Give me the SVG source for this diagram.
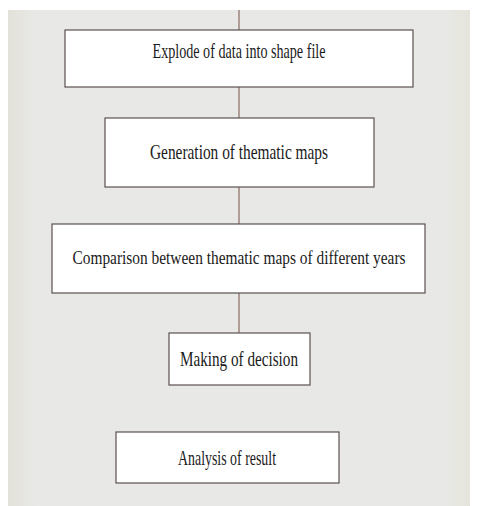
<svg xmlns="http://www.w3.org/2000/svg" width="478" height="506" viewBox="0 0 478 506">
<defs>
<linearGradient id="bg" x1="0" y1="0" x2="1" y2="0">
<stop offset="0" stop-color="#e3e2d9"/>
<stop offset="0.06" stop-color="#e8e8e6"/>
<stop offset="0.94" stop-color="#e8e8e6"/>
<stop offset="1" stop-color="#e6e5dc"/>
</linearGradient>
</defs>
<style>
.box{fill:#ffffff;stroke:#5a5250;stroke-width:1.2}
.lbl{font-family:"Liberation Serif",serif;font-size:21px;fill:#1a1a1a;text-anchor:middle}
.conn{stroke:#8a6a62;stroke-width:1.2;fill:none}
</style>
<rect x="0" y="0" width="478" height="506" fill="#ffffff"/>
<rect x="8" y="10" width="462" height="496" fill="url(#bg)"/>
<g id="connectors">
<line class="conn" x1="239" y1="10" x2="239" y2="30"/>
<line class="conn" x1="239" y1="87" x2="239" y2="118"/>
<line class="conn" x1="239" y1="187" x2="239" y2="224"/>
<line class="conn" x1="239" y1="293" x2="239" y2="333"/>
</g>
<g id="n1">
<rect class="box" x="65" y="30" width="348" height="57"/>
<text class="lbl" x="239" y="58" textLength="173" lengthAdjust="spacingAndGlyphs">Explode of data into shape file</text>
</g>
<g id="n2">
<rect class="box" x="105" y="118" width="269" height="69"/>
<text class="lbl" x="239" y="159" textLength="178" lengthAdjust="spacingAndGlyphs">Generation of thematic maps</text>
</g>
<g id="n3">
<rect class="box" x="52" y="224" width="373" height="69"/>
<text class="lbl" x="239" y="264" style="font-size:18px" textLength="333" lengthAdjust="spacingAndGlyphs">Comparison between thematic maps of different years</text>
</g>
<g id="n4">
<rect class="box" x="169" y="333" width="141" height="52"/>
<text class="lbl" x="239" y="366" textLength="118" lengthAdjust="spacingAndGlyphs">Making of decision</text>
</g>
<g id="n5">
<rect class="box" x="116" y="432" width="223" height="51"/>
<text class="lbl" x="227" y="465" textLength="98" lengthAdjust="spacingAndGlyphs">Analysis of result</text>
</g>
</svg>
